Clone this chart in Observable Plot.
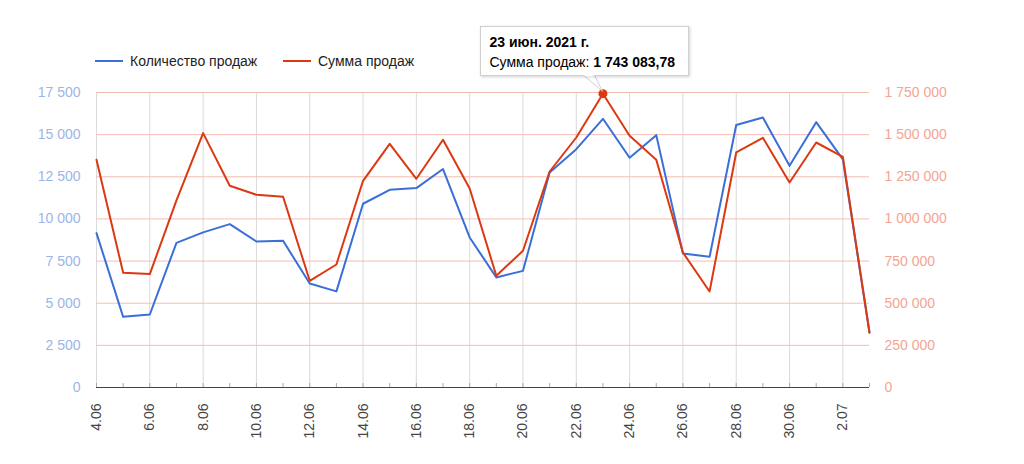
<!DOCTYPE html>
<html>
<head>
<meta charset="utf-8">
<script src="https://cdn.jsdelivr.net/npm/d3@7"></script>
<script src="https://cdn.jsdelivr.net/npm/@observablehq/plot@0.6"></script>
<style>
  html, body { margin: 0; padding: 0; background: #fff; }
  body { font-family: Arial, "Liberation Sans", sans-serif; }
  #wrap { position: relative; width: 1024px; height: 464px; overflow: hidden; }
  #legend { position: relative; height: 80px; }
  .lg-line { position: absolute; height: 2px; top: 60px; }
  .lg-text { position: absolute; top: 52px; font-size: 14px; color: #222; line-height: 18px; white-space: nowrap; }
  #tip { position: absolute; background: #fff; border: 1px solid #cfcfcf; box-shadow: 1px 1px 3px rgba(0,0,0,0.18);
         font-size: 14px; line-height: 20px; color: #000; padding: 5px 9px 3px 8px; white-space: nowrap; box-sizing: border-box; }
  #ptr { position: absolute; left: 0; top: 0; overflow: visible; }
</style>
</head>
<body>
<div id="wrap">
  <div id="legend"></div>
</div>
<script>
// ---- data ----
const dates = [
  "2021-06-04","2021-06-05","2021-06-06","2021-06-07","2021-06-08","2021-06-09","2021-06-10",
  "2021-06-11","2021-06-12","2021-06-13","2021-06-14","2021-06-15","2021-06-16","2021-06-17",
  "2021-06-18","2021-06-19","2021-06-20","2021-06-21","2021-06-22","2021-06-23","2021-06-24",
  "2021-06-25","2021-06-26","2021-06-27","2021-06-28","2021-06-29","2021-06-30","2021-07-01",
  "2021-07-02","2021-07-03"
];
const qty = [9160, 4190, 4330, 8580, 9200, 9690, 8660, 8700, 6170, 5700, 10900, 11730, 11830, 12960, 8900,
             6530, 6920, 12750, 14140, 15940, 13630, 14970, 7950, 7750, 15570, 16020, 13150, 15740, 13530, 3250];
const sum = [1350700, 680400, 672700, 1110000, 1509000, 1196600, 1143200, 1131300, 633000, 729700, 1226200,
             1445700, 1238100, 1469400, 1180500, 662700, 811000, 1281400, 1483100, 1743083.78, 1493200,
             1350800, 800800, 569500, 1394100, 1481300, 1216100, 1453400, 1368600, 326300];
const seriesNames = ["Количество продаж", "Сумма продаж"];
const seriesColors = ["#3a6fd8", "#dc3912"];
const leftTicks = [0, 2500, 5000, 7500, 10000, 12500, 15000, 17500];
const rightTicks = [0, 250000, 500000, 750000, 1000000, 1250000, 1500000, 1750000];
const xTickDates = ["2021-06-04","2021-06-06","2021-06-08","2021-06-10","2021-06-12","2021-06-14","2021-06-16",
                    "2021-06-18","2021-06-20","2021-06-22","2021-06-24","2021-06-26","2021-06-28","2021-06-30","2021-07-02"];
const xTickLabels = ["4.06","6.06","8.06","10.06","12.06","14.06","16.06","18.06","20.06","22.06","24.06","26.06","28.06","30.06","2.07"];
const highlightDate = "2021-06-23";
const highlightTitle = "23 июн. 2021 г.";

// ---- build ----
const ratio = rightTicks[rightTicks.length - 1] / leftTicks[leftTicks.length - 1];
const loc = d3.formatLocale({decimal: ",", thousands: "\u00a0", grouping: [3], currency: ["", ""]});
const fmt = loc.format(",");
const fmt2 = loc.format(",.2f");
const rows = dates.map((d, i) => ({date: new Date(d), qty: qty[i], sum: sum[i]}));
const allDates = dates.map(d => new Date(d));
const tickDates = xTickDates.map(d => new Date(d));
const labelOf = d => xTickLabels[xTickDates.indexOf(d.toISOString().slice(0, 10))];
const hl = rows.filter(r => r.date.toISOString().slice(0, 10) === highlightDate);

const FONT = 'Arial, "Liberation Sans", sans-serif';

const plot = Plot.plot({
  width: 1024,
  height: 384,
  marginLeft: 96,
  marginRight: 155,
  marginTop: 12,
  marginBottom: 77,
  style: {fontFamily: FONT, fontSize: "14px", background: "transparent", overflow: "visible"},
  x: {type: "utc", domain: [allDates[0], allDates[allDates.length - 1]]},
  y: {domain: [leftTicks[0], leftTicks[leftTicks.length - 1]]},
  marks: [
    Plot.ruleX(tickDates, {y1: leftTicks[0], y2: leftTicks[leftTicks.length - 1], stroke: "#dadada", strokeWidth: 1}),
    Plot.ruleY(leftTicks.slice(1), {stroke: "#f5bdb1", strokeWidth: 1}),
    Plot.axisX({ticks: allDates, tickSize: 4, dy: -4, text: null, stroke: "#aaa"}),
    Plot.ruleY([0], {stroke: "#444", strokeWidth: 1}),
    Plot.axisX({ticks: tickDates, tickSize: 0, tickPadding: 16, tickRotate: -90, tickFormat: labelOf,
                fill: "#444", fontSize: 14, label: null}),
    Plot.axisY({anchor: "left", ticks: leftTicks, tickSize: 0, tickPadding: 16, tickFormat: d => fmt(d),
                fill: "#9db4ea", fontSize: 14, label: null}),
    Plot.axisY({anchor: "right", ticks: leftTicks, tickSize: 0, tickPadding: 15,
                tickFormat: d => fmt(rightTicks[leftTicks.indexOf(d)]),
                fill: "#f3a593", fontSize: 14, label: null}),
    Plot.line(rows, {x: "date", y: "qty", stroke: seriesColors[0], strokeWidth: 2}),
    Plot.line(rows, {x: "date", y: d => d.sum / ratio, stroke: seriesColors[1], strokeWidth: 2}),
    Plot.dot(hl, {x: "date", y: d => d.sum / ratio, r: 4.5, fill: seriesColors[1], stroke: "none"})
  ]
});

const wrap = document.getElementById("wrap");
wrap.appendChild(plot);

// legend
const legend = document.getElementById("legend");
const legendX = [[95, 130], [283, 318]];
seriesNames.forEach((name, i) => {
  const ln = document.createElement("div");
  ln.className = "lg-line";
  ln.style.left = legendX[i][0] + "px";
  ln.style.width = "28px";
  ln.style.background = seriesColors[i];
  legend.appendChild(ln);
  const tx = document.createElement("div");
  tx.className = "lg-text";
  tx.style.left = legendX[i][1] + "px";
  tx.textContent = name;
  legend.appendChild(tx);
});

// tooltip anchored to the highlighted point
const LEG_H = 80;
const p = hl[0];
const px = plot.scale("x").apply(p.date);
const py = plot.scale("y").apply(p.sum / ratio) + LEG_H;
const boxL = px - 122, boxT = py - 67, boxW = 209, boxH = 50;

const ns = "http://www.w3.org/2000/svg";
const ptr = document.createElementNS(ns, "svg");
ptr.setAttribute("id", "ptr");
ptr.setAttribute("width", 1024);
ptr.setAttribute("height", 464);
const poly = document.createElementNS(ns, "polygon");
poly.setAttribute("points", `${px - 19},${boxT + boxH - 1} ${px - 8},${boxT + boxH - 1} ${px},${py - 2}`);
poly.setAttribute("fill", "#fff");
poly.setAttribute("stroke", "#cfcfcf");
poly.setAttribute("stroke-width", "1");
ptr.appendChild(poly);
wrap.appendChild(ptr);

const tip = document.createElement("div");
tip.id = "tip";
tip.style.left = boxL + "px";
tip.style.top = boxT + "px";
tip.style.width = boxW + "px";
tip.style.height = boxH + "px";
tip.innerHTML = `<div style="font-weight:bold">${highlightTitle}</div>` +
  `<div>${seriesNames[1]}: <b>${fmt2(p.sum)}</b></div>`;
wrap.appendChild(tip);

// cover the seam between the box and pointer
const cover = document.createElementNS(ns, "polygon");
cover.setAttribute("points", `${px - 18},${boxT + boxH - 2} ${px - 9},${boxT + boxH - 2} ${px - 9},${boxT + boxH} ${px - 18},${boxT + boxH}`);
cover.setAttribute("fill", "#fff");
const ptr2 = ptr.cloneNode(false);
ptr2.appendChild(cover);
wrap.appendChild(ptr2);
</script>
</body>
</html>
